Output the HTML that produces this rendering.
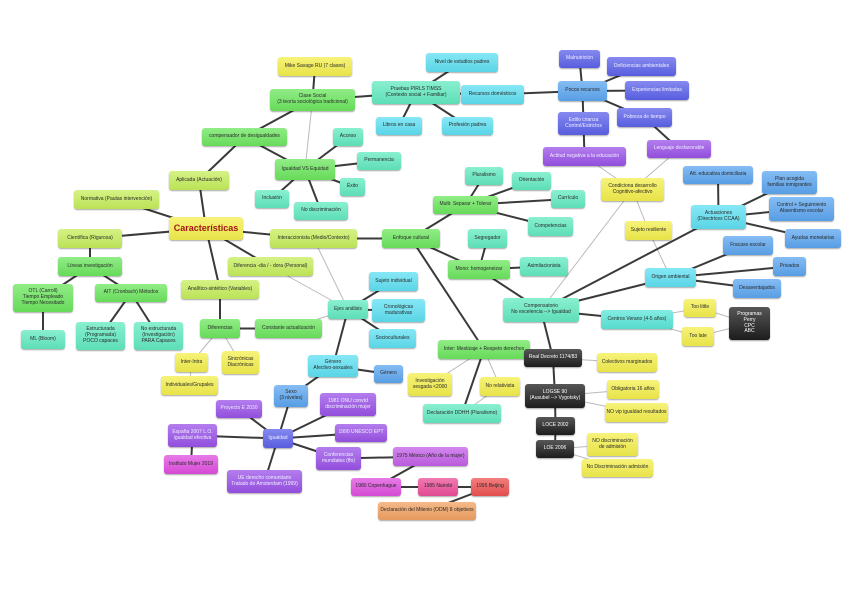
<!DOCTYPE html>
<html><head><meta charset="utf-8">
<style>
html,body{margin:0;padding:0;background:#fff;}
#c{position:relative;width:848px;height:599px;overflow:hidden;font-family:"Liberation Sans",sans-serif;}
svg{position:absolute;left:0;top:0;}
.n{position:absolute;box-sizing:border-box;border-radius:3px;display:flex;align-items:center;justify-content:center;text-align:center;font-size:5px;line-height:5.8px;white-space:nowrap;color:#2a2a2a;box-shadow:0 1px 1.5px rgba(0,0,0,.35);padding:0 1px;background-image:linear-gradient(rgba(255,255,255,.25),rgba(0,0,0,.05));}
</style></head><body><div id="c"><svg id="s" width="848" height="599"></svg></div>
<script>
var C={y:'#f4ef4c',l:'#c6ee5c',g:'#6ce65e',t:'#62eac0',c:'#5ee0f2',b:'#5ca6f0',i:'#5c62ea',p:'#9a52e8',m:'#e04ee0',k:'#ec4e98',r:'#ee5252',o:'#f2a262',x:'#1e1e1e',v:'#5ae6d8',q:'#c460e8'};
var N={
mike:[278,57,352,76,'y','Mike Savage RU  (7 clases)'],
clase:[270,89,355,111,'g','Clase Social<br>(3 teoría sociológica tradicional)'],
pruebas:[372,81,460,104,'t','Pruebas PIRLS TIMSS<br>(Contexto social + Familiar)'],
libros:[376,117,422,135,'c','Libros en casa'],
comp:[202,128,287,146,'g','compensador de desigualdades'],
acceso:[333,128,363,146,'t','Acceso'],
perm:[357,152,401,170,'t','Permanencia'],
igvs:[275,159,335,180,'g','Igualdad VS Equidad'],
exito:[340,178,365,196,'t','Éxito'],
incl:[255,190,289,208,'t','Inclusión'],
nodis:[294,202,348,220,'t','No discriminación'],
aplic:[169,171,229,190,'l','Aplicada (Actuación)'],
norm:[74,190,159,209,'l','Normativa (Pautas intervención)'],
car:[169,217,243,240,'y','Características'],
cien:[58,229,122,248,'l','Científica (Rigurosa)'],
inter:[270,229,357,248,'l','Interaccionista (Medio/Contexto)'],
enf:[382,229,440,248,'g','Enfoque cultural'],
lin:[58,257,122,276,'g','Líneas investigación'],
dif:[228,257,313,276,'l','Diferencia  -dia / - dora (Personal)'],
otl:[13,284,73,312,'g','OTL (Carroll)<br>Tiempo Empleado<br>Tiempo Necesitado'],
ait:[95,284,167,302,'g','AIT (Cronbach) Métodos'],
anal:[181,280,259,299,'l','Analítico-sintético (Variables)'],
sujind:[369,272,418,291,'c','Sujeto individual'],
ejes:[328,300,368,319,'t','Ejes análisis'],
cron:[372,299,425,322,'c','Cronológicas<br>madurativas'],
difs:[200,319,240,338,'g','Diferencias'],
const:[255,319,322,338,'g','Constante actualización'],
ml:[21,330,65,349,'t','ML (Bloom)'],
estr:[76,322,125,350,'t','Estructurada<br>(Programada)<br>POCO capaces'],
noestr:[134,322,183,350,'t','No estructurada<br>(Investigación)<br>PARA Capaces'],
socio:[369,329,416,348,'c','Socioculturales'],
nivel:[426,53,498,72,'c','Nivel de estudios padres'],
recd:[461,85,524,104,'c','Recursos domésticos'],
prof:[442,117,493,135,'c','Profesión padres'],
maln:[559,50,600,68,'i','Malnutrición'],
defi:[607,57,676,76,'i','Deficiencias ambientales'],
pocos:[558,81,607,101,'b','Pocos recursos'],
expe:[625,81,689,100,'i','Experiencias limitadas'],
estilo:[558,112,609,135,'i','Estilo crianza<br>Control/Estrictos'],
pobre:[617,108,672,127,'i','Pobreza de tiempo'],
actit:[543,147,626,166,'p','Actitud negativa a la educación'],
leng:[647,140,711,158,'p','Lenguaje desfavorable'],
plur:[465,167,503,185,'t','Pluralismo'],
orie:[512,172,551,190,'t','Orientación'],
cond:[601,178,664,201,'y','Condiciona desarrollo<br>Cognitivo-afectivo'],
att:[683,166,753,184,'b','Att. educativa domiciliaria'],
plan:[762,171,817,194,'b','Plan acogida<br>familias inmigrantes'],
multi:[433,196,498,214,'g','Multi: Separar + Tolerar'],
curr:[551,190,585,208,'t','Currículo'],
actu:[691,205,746,229,'c','Actuaciones<br>(Directrices CCAA)'],
ctrl:[769,197,834,221,'b','Control + Seguimiento<br>Absentismo escolar'],
compt:[528,217,573,236,'t','Competencias'],
resil:[625,221,672,240,'y','Sujeto resiliente'],
ayud:[785,229,841,248,'b','Ayudas monetarias'],
segr:[468,229,507,248,'t','Segregador'],
frac:[723,236,773,255,'b','Fracaso escolar'],
mono:[448,260,510,279,'g','Mono: homogeneizar'],
asim:[520,257,568,276,'t','Asimilacionista'],
priv:[773,257,806,276,'b','Privados'],
orig:[645,268,696,287,'c','Origen ambiental'],
desa:[733,279,781,298,'b','Desaventajados'],
compn:[503,298,579,322,'t','Compensatorio<br>No excelencia --> Igualdad'],
tlit:[684,299,716,317,'y','Too little'],
perry:[729,307,770,340,'x','Programas<br>Perry<br>CPC<br>ABC'],
cver:[601,310,673,329,'v','Centros Verano (4-5 años)'],
tlat:[682,327,714,346,'y','Too late'],
mest:[438,340,530,359,'g','Inter: Mestizaje + Respeto derechos'],
intra:[175,353,208,372,'y','Inter-Intra'],
sinc:[222,351,259,374,'y','Sincrónicas<br>Diacrónicas'],
indiv:[161,376,218,395,'y','Individuales/Grupales'],
genaf:[308,355,358,377,'c','Género<br>Afectivo-sexuales'],
gen:[374,365,403,383,'b','Género'],
rd:[524,349,582,367,'x','Real Decreto 1174/83'],
colec:[597,353,657,372,'y','Colectivos marginados'],
inv:[408,373,452,396,'y','Investigación<br>sesgada <2000'],
norel:[480,377,520,396,'y','No relativista'],
logse:[525,384,585,408,'x','LOGSE 90<br>(Ausubel --> Vygotsky)'],
oblig:[607,380,659,399,'y','Obligatoria 16 años'],
sexo:[274,385,308,407,'b','Sexo<br>(3 niveles)'],
proy:[216,400,262,418,'p','Proyecto E 2030'],
onu:[320,393,376,416,'p','1981 ONU convtd<br>discriminación mujer'],
novip:[605,403,668,422,'y','NO vip igualdad resultados'],
ddhh:[423,404,501,423,'t','Declaración DDHH (Pluralismo)'],
loce:[536,417,575,435,'x','LOCE 2002'],
esp:[168,424,217,447,'p','España 2007 L.O.<br>igualdad efectiva'],
igu:[263,429,293,448,'i','Igualdad'],
unes:[335,424,387,442,'p','1990 UNESCO EPT'],
nodad:[587,433,638,456,'y','NO discriminación<br>de admisión'],
loe:[536,440,574,458,'x','LOE 2006'],
conf:[316,447,361,470,'p','Conferencias<br>mundiales (ffo)'],
mex:[393,447,468,466,'q','1975 México (Año de la mujer)'],
inst:[164,455,218,474,'m','Instituto Mujer 2019'],
nodadm:[582,459,653,477,'y','No Discriminación admisión'],
ue:[227,470,302,493,'p','UE derecho comunitario<br>Tratado de Amsterdam (1999)'],
cop:[351,478,401,496,'m','1980 Copenhague'],
nai:[418,478,458,496,'k','1985 Nairobi'],
bei:[471,478,509,496,'r','1995 Beijing'],
mil:[378,502,476,520,'o','Declaración del Milenio (ODM) 8 objetivos']
};
var E='car-norm car-aplic car-cien car-inter car-dif car-anal aplic-comp comp-clase comp-igvs clase-mike clase-pruebas clase-igvs.l igvs-acceso igvs-perm igvs-exito igvs-incl igvs-nodis pruebas-nivel pruebas-recd pruebas-libros pruebas-prof recd-pocos pocos-maln pocos-defi pocos-expe pocos-estilo pocos-pobre estilo-actit pobre-leng actit-cond.l leng-cond.l cond-compn.l cond-resil.l resil-orig.l cien-lin lin-otl lin-ait otl-ml ait-estr ait-noestr inter-enf inter-ejes.l dif-ejes.l enf-multi enf-mono enf-mest multi-plur multi-orie multi-curr multi-compt mono-segr mono-asim mono-compn compn-actu compn-orig compn-cver compn-rd actu-att actu-plan actu-ctrl actu-ayud orig-frac orig-priv orig-desa cver-tlit.l cver-tlat.l tlit-perry.l tlat-perry.l rd-colec.l rd-logse logse-oblig.l logse-novip.l logse-loce loce-loe loe-nodad.l loe-nodadm.l anal-difs difs-const difs-intra.l difs-sinc.l intra-indiv.l const-ejes.l ejes-sujind ejes-cron ejes-socio ejes-genaf genaf-gen genaf-sexo sexo-igu igu-proy igu-onu igu-unes igu-conf igu-ue igu-esp esp-inst conf-mex mex-cop cop-nai nai-bei bei-mil mest-inv.l mest-norel.l mest-ddhh norel-ddhh.l'.split(' ');
var s='',c=document.getElementById('c');
function ctr(k){var a=N[k];return[(a[0]+a[2])/2,(a[1]+a[3])/2];}
E.forEach(function(e){var l=e.indexOf('.l')>0;e=e.replace('.l','');var p=e.split('-'),a=ctr(p[0]),b=ctr(p[1]);
s+='<line x1="'+a[0]+'" y1="'+a[1]+'" x2="'+b[0]+'" y2="'+b[1]+'" stroke="'+(l?'#bbb':'#3a3a3a')+'" stroke-width="'+(l?1:2)+'"/>';});
document.getElementById('s').innerHTML=s;
for(var k in N){var a=N[k],d=document.createElement('div');d.className='n';
d.style.cssText='left:'+a[0]+'px;top:'+a[1]+'px;width:'+(a[2]-a[0])+'px;height:'+(a[3]-a[1])+'px;background-color:'+C[a[4]]+';'+(a[4]=='x'?'color:#fff;':'')+(a[4]=='i'||a[4]=='p'?'color:#f0f0ff;':'')+(k=='car'?'font-size:9px;font-weight:bold;color:#a01818;':'');
d.innerHTML=a[5];c.appendChild(d);}
</script></body></html>
